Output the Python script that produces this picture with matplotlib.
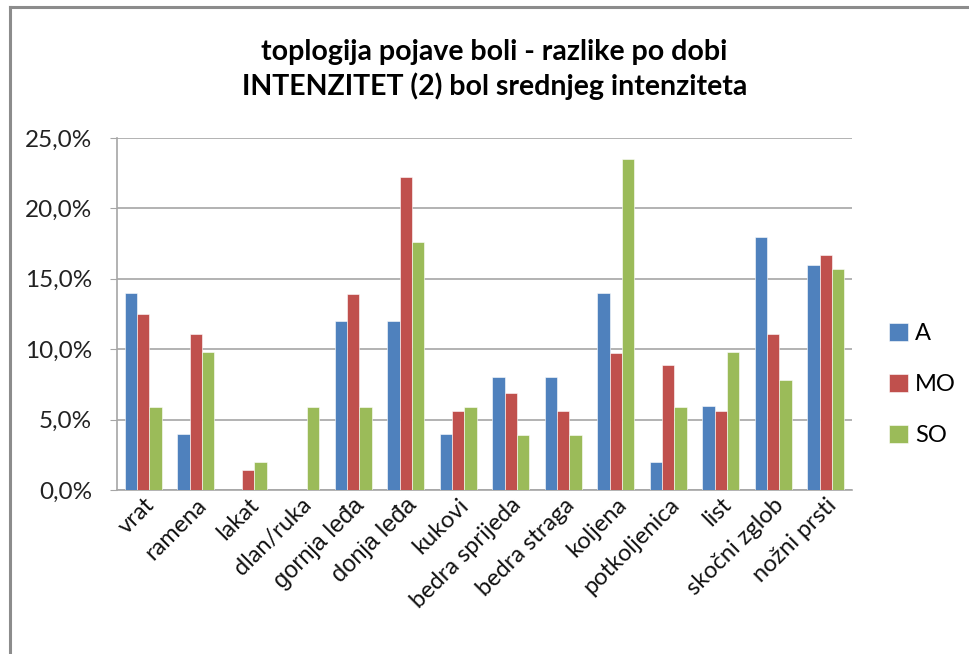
import numpy as np
import matplotlib
matplotlib.use('Agg')
import matplotlib.pyplot as plt
from matplotlib.ticker import FuncFormatter
from matplotlib.lines import Line2D

plt.rcParams['font.family'] = ['Lato', 'DejaVu Sans']

categories = ['vrat', 'ramena', 'lakat', 'dlan/ruka', 'gornja leđa', 'donja leđa',
              'kukovi', 'bedra sprijeda', 'bedra straga', 'koljena', 'potkoljenica',
              'list', 'skočni zglob', 'nožni prsti']
series_names = ['A', 'MO', 'SO']
vals_A = [14.0, 4.0, 0.0, 0.0, 12.0, 12.0, 4.0, 8.0, 8.0, 14.0, 2.0, 6.0, 18.0, 16.0]
vals_MO = [12.5, 11.1, 1.4, 0.0, 13.9, 22.2, 5.6, 6.9, 5.6, 9.7, 8.9, 5.6, 11.1, 16.7]
vals_SO = [5.9, 9.8, 2.0, 5.9, 5.9, 17.6, 5.9, 3.9, 3.9, 23.5, 5.9, 9.8, 7.8, 15.7]
colors = ['#4F81BD', '#C0504D', '#9BBB59']

fig = plt.figure(figsize=(9.69, 6.54), dpi=100)
ax = fig.add_axes([0.1207, 0.2508, 0.7585, 0.5382])

x = np.arange(len(categories))
w = 0.235
for i, (vals, name) in enumerate(zip([vals_A, vals_MO, vals_SO], series_names)):
    ax.bar(x + (i - 1) * w, vals, width=w, color=colors[i], label=name,
           edgecolor='white', linewidth=0.4, zorder=3)

ax.set_xlim(-0.5, len(categories) - 0.5)
ax.set_ylim(0, 25)
ax.set_yticks(np.arange(0, 25.1, 5))
ax.yaxis.set_major_formatter(FuncFormatter(lambda v, p: f"{v:.1f}%".replace('.', ',')))
ax.grid(axis='y', color='#A6A6A6', linewidth=1.2, zorder=0)
for s in ['top', 'right']:
    ax.spines[s].set_visible(False)
ax.spines['left'].set_color('#A6A6A6')
ax.spines['bottom'].set_color('#A6A6A6')
ax.spines['left'].set_linewidth(1.2)
ax.spines['bottom'].set_linewidth(1.2)
ax.tick_params(axis='y', labelsize=17.5, length=5, color='#A6A6A6', pad=13, labelcolor='#222222')
ax.tick_params(axis='x', length=0, pad=3)

ax.set_xticks(x)
ax.set_xticklabels(categories, rotation=45, ha='right', rotation_mode='anchor',
                   fontsize=17, color='#111111')
# these two labels use a different font in the original
for lab in ax.get_xticklabels():
    if lab.get_text() in ('gornja leđa', 'donja leđa'):
        lab.set_fontfamily(['Liberation Sans', 'DejaVu Sans'])
        lab.set_fontsize(17)

fig.text(0.51, 0.894, 'toplogija pojave boli - razlike po dobi\nINTENZITET (2) bol srednjeg intenziteta',
         ha='center', va='center', fontsize=20.5, fontweight='bold', linespacing=1.35)

leg = ax.legend(loc='center left', bbox_to_anchor=(1.022, 0.30), frameon=False,
                fontsize=17, handlelength=0.8, handleheight=0.8, handletextpad=0.3,
                labelspacing=1.25)

# chart border (only left and top edges visible in the crop)
fig.add_artist(Line2D([9.5 / 969, 9.5 / 969], [0, 1 - 7 / 654], color='#8C8C8C', linewidth=2.2,
                      transform=fig.transFigure))
fig.add_artist(Line2D([9.5 / 969, 1], [1 - 7 / 654, 1 - 7 / 654], color='#8C8C8C', linewidth=2.2,
                      transform=fig.transFigure))

plt.savefig('out.png', dpi=100)
plt.close()
